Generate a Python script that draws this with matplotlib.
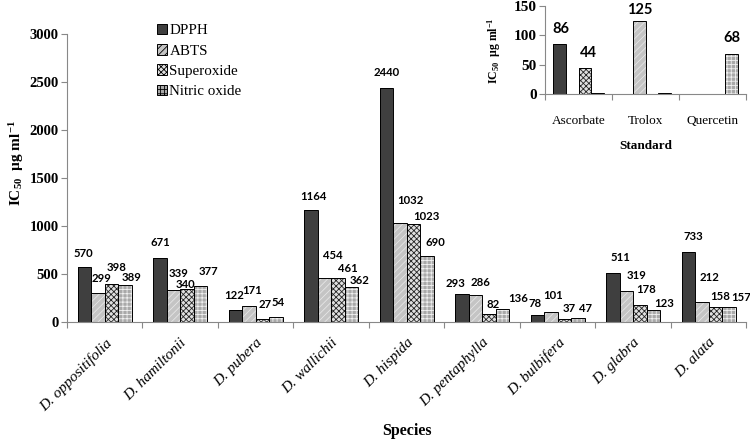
import numpy as np
import matplotlib
matplotlib.use("Agg")
import matplotlib.pyplot as plt
from matplotlib.patches import Patch

plt.rcParams['mathtext.fontset'] = 'custom'
plt.rcParams['mathtext.rm'] = 'Liberation Serif:bold'
plt.rcParams['mathtext.bf'] = 'Liberation Serif:bold'
plt.rcParams['mathtext.it'] = 'Liberation Serif:bold:italic'
plt.rcParams['hatch.linewidth'] = 0.6

species = ["D. oppositifolia", "D. hamiltonii", "D. pubera", "D. wallichii", "D. hispida",
           "D. pentaphylla", "D. bulbifera", "D. glabra", "D. alata"]
series = ["DPPH", "ABTS", "Superoxide", "Nitric oxide"]
dpph = [570, 671, 122, 1164, 2440, 293, 78, 511, 733]
abts = [299, 339, 171, 454, 1032, 286, 101, 319, 212]
superoxide = [398, 340, 27, 461, 1023, 82, 37, 178, 158]
nitric = [389, 377, 54, 362, 690, 136, 47, 123, 157]

standards = ["Ascorbate", "Trolox", "Quercetin"]
std_dpph = [86, np.nan, np.nan]
std_abts = [np.nan, 125, np.nan]
std_super = [44, np.nan, np.nan]
std_nitric = [2, 2, 68]
std_labels = [["86", "", ""], ["", "125", ""], ["44", "", ""], ["", "", "68"]]

# layout: label centre offsets (pixels) from the top centre of each bar
main_offsets = [
    [(-1, 14), (0, 15), (-1, 15), (2, 14), (0, 15), (-7, 10), (-3, 11), (7, 15), (5, 15)],
    [(3, 15), (5, 16), (3, 15), (8, 23), (10, 22), (5, 12), (2, 17), (10, 16), (7, 24)],
    [(5, 16), (-1, 5), (3, 15), (10, 9), (13, 7), (4, 10), (5, 10), (6, 15), (5, 10)],
    [(7, 7), (8, 14), (2, 14), (8, 7), (8, 13), (16, 11), (8, 9), (11, 7), (12, 9)],
]
inset_offsets = [
    [(1, 15), (0, 0), (0, 0)],
    [(0, 0), (0, 11), (0, 0)],
    [(3, 15), (0, 0), (0, 0)],
    [(0, 0), (0, 0), (0, 16)],
]

styles = [
    dict(face="#3f3f3f", hatch=None, hcol="#3f3f3f"),
    dict(face="#c4c4c4", hatch="/////", hcol="#e6e6e6"),
    dict(face="#e0e0e0", hatch="xxxxxx", hcol="#262626"),
    dict(face="#a9a9a9", hatch="++++", hcol="#f0f0f0"),
]

serif = "Liberation Serif"
numfont = "Lato"

fig = plt.figure(figsize=(7.5, 4.4), dpi=100)
ax = fig.add_axes([0.0893, 0.268, 0.906, 0.655])


def draw_bars(axis, x, vals_list, width, offsets, labels=None, fs=8):
    n = len(vals_list)
    for i, vals in enumerate(vals_list):
        st = styles[i]
        pos = x + (i - (n - 1) / 2) * width
        vals = np.array(vals, dtype=float)
        axis.bar(pos, vals, width, color=st["face"], hatch=st["hatch"],
                 edgecolor=st["hcol"], linewidth=0, zorder=2)
        axis.bar(pos, vals, width, fill=False, edgecolor="black", linewidth=0.7, zorder=3)
        for j, v in enumerate(vals):
            if np.isnan(v):
                continue
            lab = str(int(v)) if labels is None else labels[i][j]
            if lab:
                dx, dy = offsets[i][j]
                axis.annotate(lab, (pos[j], v), xytext=(dx, dy), textcoords="offset pixels",
                              ha="center", va="center", fontsize=fs, fontweight="bold",
                              family=numfont, zorder=5)


x = np.arange(len(species))
draw_bars(ax, x, [dpph, abts, superoxide, nitric], 0.178, main_offsets, fs=8.2)
ax.set_xlim(-0.5, len(species) - 0.5)
ax.set_ylim(0, 3000)
ax.set_yticks(np.arange(0, 3001, 500))
ax.set_yticklabels([str(v) for v in range(0, 3001, 500)], family=serif, fontweight="bold", fontsize=10.5)
ax.set_xticks(np.arange(-0.5, len(species), 1.0))
ax.set_xticklabels([])
ax.set_xticks(x, minor=True)
ax.set_xticklabels(species, minor=True, rotation=45, ha="right", va="top",
                   rotation_mode="anchor", family=serif, style="italic", fontsize=11)
ax.tick_params(axis="x", which="minor", length=0, pad=10)
ax.tick_params(axis="x", which="major", length=4, color="#888888")
ax.tick_params(axis="y", length=4, color="#888888", pad=2)
for s in ["top", "right"]:
    ax.spines[s].set_visible(False)
for s in ["left", "bottom"]:
    ax.spines[s].set_color("#888888")
ax.set_ylabel("IC$_{50}$  µg ml$^{-1}$", family=serif, fontweight="bold", fontsize=11)
ax.yaxis.set_label_coords(-0.06, 0.55)
ax.set_xlabel("Species", family=serif, fontweight="bold", fontsize=11.5)
ax.xaxis.set_label_coords(0.5, -0.35)

handles = [Patch(facecolor=st["face"], hatch=st["hatch"], edgecolor="black", linewidth=0.7)
           for st in styles]
leg = ax.legend(handles, series, loc="upper left", bbox_to_anchor=(0.132, 1.035), frameon=False,
                prop={"family": serif, "size": 10.8}, handlelength=0.7, handleheight=0.7,
                handletextpad=0.15, labelspacing=0.45, borderaxespad=0, borderpad=0)

# inset
ins = fig.add_axes([0.727, 0.786, 0.268, 0.2])
xs = np.arange(len(standards))
draw_bars(ins, xs, [std_dpph, std_abts, std_super, std_nitric], 0.19, inset_offsets,
          labels=std_labels, fs=10.5)
ins.set_xlim(-0.5, len(standards) - 0.5)
ins.set_ylim(0, 150)
ins.set_yticks([0, 50, 100, 150])
ins.set_yticklabels(["0", "50", "100", "150"], family=serif, fontweight="bold", fontsize=11)
ins.set_xticks(np.arange(-0.5, len(standards), 1.0))
ins.set_xticklabels([])
ins.set_xticks(xs, minor=True)
ins.set_xticklabels(standards, minor=True, family=serif, fontsize=9.5)
ins.tick_params(axis="x", which="minor", length=0, pad=15)
ins.tick_params(axis="x", which="major", length=4, color="#888888")
ins.tick_params(axis="y", length=4, color="#888888", pad=2)
for s in ["top", "right"]:
    ins.spines[s].set_visible(False)
for s in ["left", "bottom"]:
    ins.spines[s].set_color("#888888")
ins.set_ylabel("IC$_{50}$  µg ml$^{-1}$", family=serif, fontweight="bold", fontsize=8.5)
ins.yaxis.set_label_coords(-0.21, 0.5)
ins.set_xlabel("Standard", family=serif, fontweight="bold", fontsize=9.5)
ins.xaxis.set_label_coords(0.5, -0.52)

fig.savefig("out.png", dpi=100)
